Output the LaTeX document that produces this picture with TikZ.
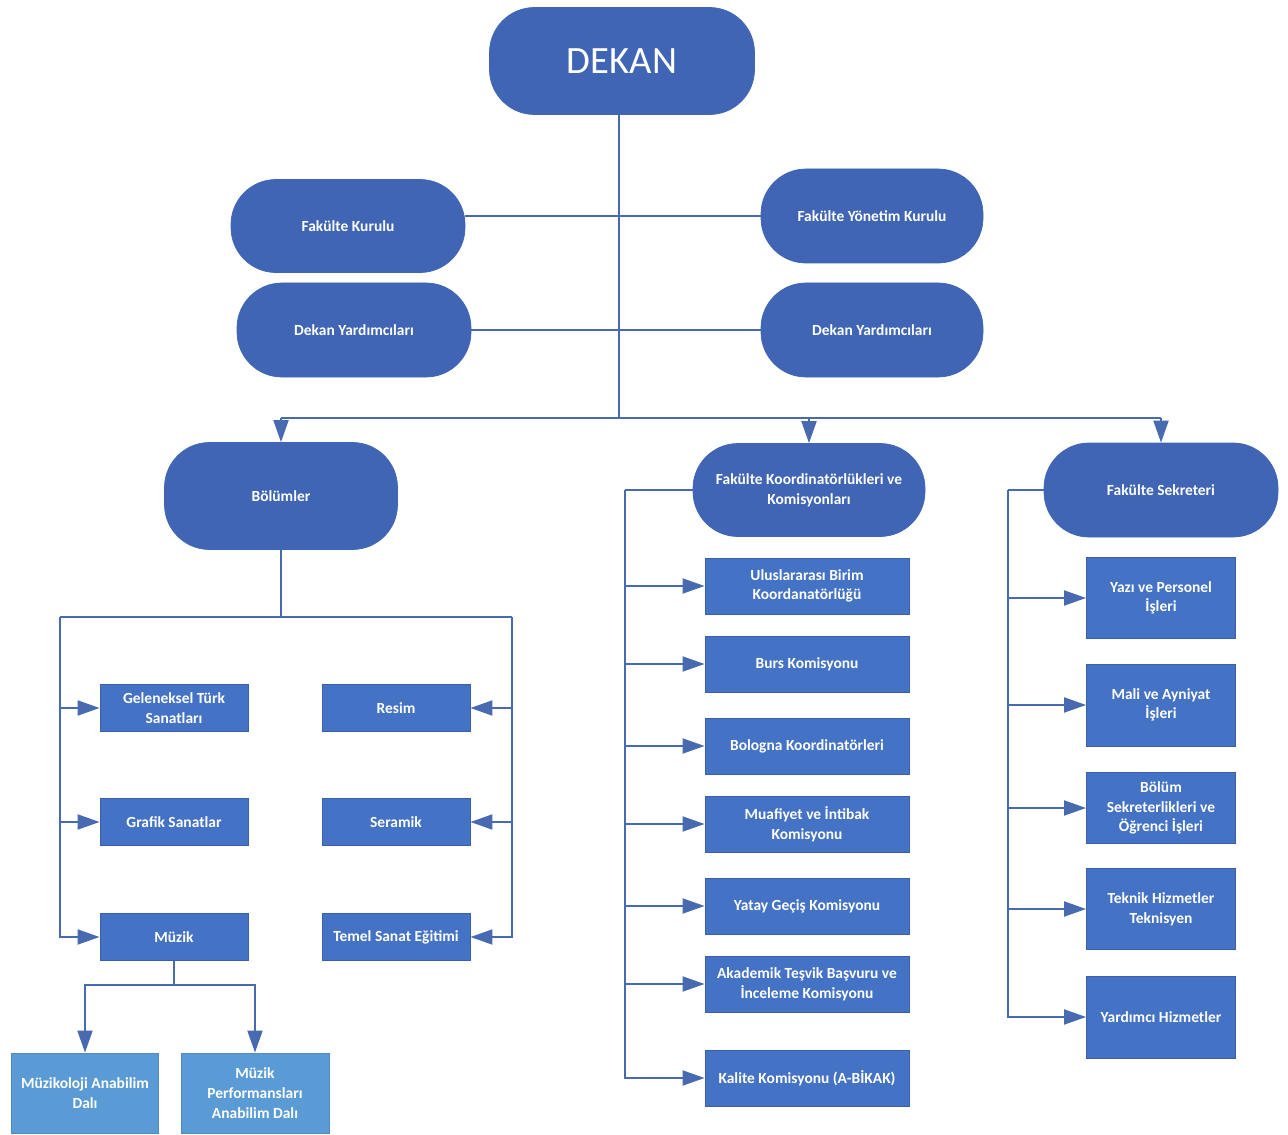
\documentclass[tikz,border=0pt]{standalone}
\usepackage{fontspec}
\setmainfont{Carlito}
\usetikzlibrary{arrows.meta}
\definecolor{stad}{RGB}{63,101,180}
\definecolor{rect}{RGB}{68,114,196}
\definecolor{lite}{RGB}{91,155,213}
\definecolor{conn}{RGB}{72,106,176}
\begin{document}
\begin{tikzpicture}[x=0.02cm,y=-0.02cm,
  sz/.style 2 args={minimum width={#1*0.02cm}, minimum height={#2*0.02cm}},
  txt/.style={text=white, font=\fontsize{8.8}{11.2}\selectfont\bfseries, align=center, inner sep=0pt},
  stadium/.style={txt, fill=stad, draw=stad, rounded corners=0.9cm},
  box/.style={txt, fill=rect, draw=rect!85!black, line width=0.5pt},
  litebox/.style={box, fill=lite, draw=lite!90!black},
  line/.style={draw=conn, line width=1.1pt},
  arr/.style={line, -{Triangle[length=0.44cm,width=0.3cm]}}
]
\useasboundingbox (0,0) rectangle (1288,1135);

% top level
\node[stadium, sz={265}{107}, font=\fontsize{22}{26}\selectfont] (dekan) at (622,61) {DEKAN};
\node[stadium, sz={234}{93}] (fk) at (348,226) {Fakülte Kurulu};
\node[stadium, sz={222}{94}] (fyk) at (872,216) {Fakülte Yönetim Kurulu};
\node[stadium, sz={234}{94}] (dyl) at (354,330) {Dekan Yardımcıları};
\node[stadium, sz={222}{94}] (dyr) at (872,330) {Dekan Yardımcıları};
\node[stadium, sz={233}{107}] (bol) at (281,496) {Bölümler};
\node[stadium, sz={232}{93}] (kom) at (809,490) {Fakülte Koordinatörlükleri ve\\Komisyonları};
\node[stadium, sz={234}{94}] (sek) at (1161,490) {Fakülte Sekreteri};

% Bölümler
\node[box, sz={148}{47}] (gts) at (174,708) {Geleneksel Türk\\Sanatları};
\node[box, sz={148}{47}] (gra) at (174,822) {Grafik Sanatlar};
\node[box, sz={148}{47}] (muz) at (174,937) {Müzik};
\node[box, sz={148}{47}] (res) at (396,708) {Resim};
\node[box, sz={148}{47}] (ser) at (396,822) {Seramik};
\node[box, sz={148}{47}] (tse) at (396,937) {Temel Sanat Eğitimi};
\node[litebox, sz={147}{80}] (mzk) at (85,1093) {Müzikoloji Anabilim\\Dalı};
\node[litebox, sz={148}{80}] (mpa) at (255,1093) {Müzik\\Performansları\\Anabilim Dalı};

% Koordinatörlükler
\node[box, sz={204}{56}] (ubk) at (807,586) {Uluslararası Birim\\Koordanatörlüğü};
\node[box, sz={204}{56}] (bur) at (807,664) {Burs Komisyonu};
\node[box, sz={204}{56}] (bkk) at (807,746) {Bologna Koordinatörleri};
\node[box, sz={204}{56}] (mik) at (807,824) {Muafiyet ve İntibak\\Komisyonu};
\node[box, sz={204}{56}] (ygk) at (807,906) {Yatay Geçiş Komisyonu};
\node[box, sz={204}{56}] (atb) at (807,984) {Akademik Teşvik Başvuru ve\\İnceleme Komisyonu};
\node[box, sz={204}{56}] (kal) at (807,1078) {Kalite Komisyonu (A-BİKAK)};

% Sekreterlik
\node[box, sz={149}{81}] (ypi) at (1161,598) {Yazı ve Personel\\İşleri};
\node[box, sz={149}{82}] (mai) at (1161,705) {Mali ve Ayniyat\\İşleri};
\node[box, sz={149}{71}] (bso) at (1161,808) {Bölüm\\Sekreterlikleri ve\\Öğrenci İşleri};
\node[box, sz={149}{81}] (thz) at (1161,909) {Teknik Hizmetler\\Teknisyen};
\node[box, sz={149}{82}] (yhz) at (1161,1017) {Yardımcı Hizmetler};

% connectors top
\coordinate (busM) at (619,418);
\draw[line] (dekan.south -| busM) -- (busM);
\draw[line] (fk.east |- fyk.west) -- (fyk.west);
\draw[line] (dyl.east) -- (dyr.west);
\draw[line] (bol.north |- busM) -- (sek.north |- busM);
\draw[arr] (bol.north |- busM) -- (bol.north);
\draw[arr] (kom.north |- busM) -- (kom.north);
\draw[arr] (sek.north |- busM) -- (sek.north);

% Bölümler connectors
\coordinate (bL) at (60,617);
\coordinate (bR) at (512,617);
\draw[line] (bol.south) -- (bol.south |- bL);
\draw[line] (bL) -- (bR);
\draw[arr] (bL |- gts.west) -- (gts.west);
\draw[arr] (bL |- gra.west) -- (gra.west);
\draw[arr] (bL) |- (muz.west);
\draw[arr] (bR |- res.east) -- (res.east);
\draw[arr] (bR |- ser.east) -- (ser.east);
\draw[arr] (bR) |- (tse.east);
\coordinate (mj) at (174,985);
\draw[line] (muz.south) -- (mj);
\draw[arr] (mj) -| (mzk.north);
\draw[arr] (mj) -| (mpa.north);

% Koordinatörlük connectors
\coordinate (kL) at (625,490);
\draw[line] (kom.west) -- (kL);
\draw[arr] (kL) |- (kal.west);
\draw[arr] (kL |- ubk.west) -- (ubk.west);
\draw[arr] (kL |- bur.west) -- (bur.west);
\draw[arr] (kL |- bkk.west) -- (bkk.west);
\draw[arr] (kL |- mik.west) -- (mik.west);
\draw[arr] (kL |- ygk.west) -- (ygk.west);
\draw[arr] (kL |- atb.west) -- (atb.west);

% Sekreterlik connectors
\coordinate (sL) at (1008,490);
\draw[line] (sek.west) -- (sL);
\draw[arr] (sL) |- (yhz.west);
\draw[arr] (sL |- ypi.west) -- (ypi.west);
\draw[arr] (sL |- mai.west) -- (mai.west);
\draw[arr] (sL |- bso.west) -- (bso.west);
\draw[arr] (sL |- thz.west) -- (thz.west);
\end{tikzpicture}
\end{document}
